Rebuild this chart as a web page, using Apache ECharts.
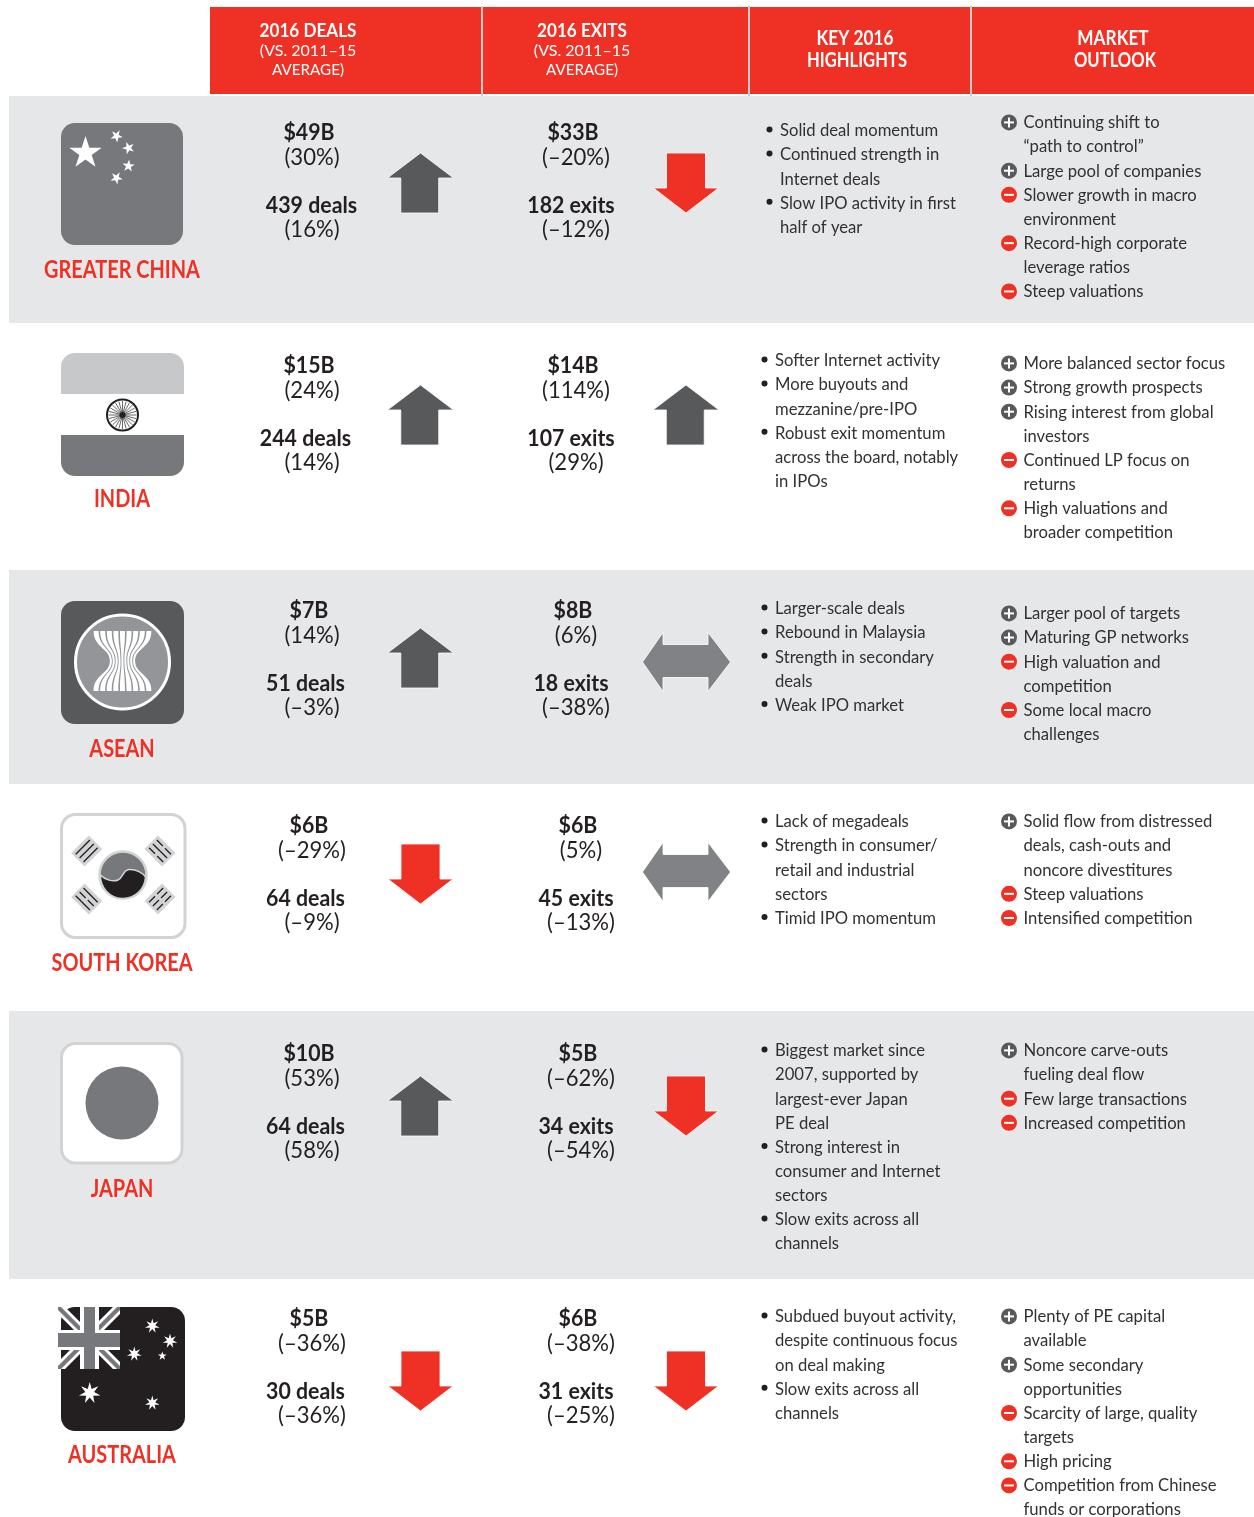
<!DOCTYPE html>
<html>
<head>
<meta charset="utf-8">
<script src="https://cdn.jsdelivr.net/npm/echarts@6/dist/echarts.min.js"></script>
<style>
html, body { margin: 0; padding: 0; background: #fff; }
#chart { width: 1254px; height: 1517px; }
</style>
</head>
<body>
<div id="chart"></div>
<script>
// table content
var regions = ['GREATER CHINA', 'INDIA', 'ASEAN', 'SOUTH KOREA', 'JAPAN', 'AUSTRALIA'];
var dealValues = ['$49B', '$15B', '$7B', '$6B', '$10B', '$5B'];
var dealValueChange = ['(30%)', '(24%)', '(14%)', '(–29%)', '(53%)', '(–36%)'];
var dealCounts = ['439 deals', '244 deals', '51 deals', '64 deals', '64 deals', '30 deals'];
var dealCountChange = ['(16%)', '(14%)', '(–3%)', '(–9%)', '(58%)', '(–36%)'];
var exitValues = ['$33B', '$14B', '$8B', '$6B', '$5B', '$6B'];
var exitValueChange = ['(–20%)', '(114%)', '(6%)', '(5%)', '(–62%)', '(–38%)'];
var exitCounts = ['182 exits', '107 exits', '18 exits', '45 exits', '34 exits', '31 exits'];
var exitCountChange = ['(–12%)', '(29%)', '(–38%)', '(–13%)', '(–54%)', '(–25%)'];
var dealTrend = ['up', 'up', 'up', 'down', 'up', 'down'];
var exitTrend = ['down', 'up', 'flat', 'flat', 'down', 'down'];

var highlights = [
    [['Solid deal momentum'], ['Continued strength in', 'Internet deals'], ['Slow IPO activity in first', 'half of year']],
    [['Softer Internet activity'], ['More buyouts and', 'mezzanine/pre-IPO'], ['Robust exit momentum', 'across the board, notably', 'in IPOs']],
    [['Larger-scale deals'], ['Rebound in Malaysia'], ['Strength in secondary', 'deals'], ['Weak IPO market']],
    [['Lack of megadeals'], ['Strength in consumer/', 'retail and industrial', 'sectors'], ['Timid IPO momentum']],
    [['Biggest market since', '2007, supported by', 'largest-ever Japan', 'PE deal'], ['Strong interest in', 'consumer and Internet', 'sectors'], ['Slow exits across all', 'channels']],
    [['Subdued buyout activity,', 'despite continuous focus', 'on deal making'], ['Slow exits across all', 'channels']]
];

// first entry of each item: '+' or '-'
var outlook = [
    [['+', 'Continuing shift to', '“path to control”'], ['+', 'Large pool of companies'], ['-', 'Slower growth in macro', 'environment'], ['-', 'Record-high corporate', 'leverage ratios'], ['-', 'Steep valuations']],
    [['+', 'More balanced sector focus'], ['+', 'Strong growth prospects'], ['+', 'Rising interest from global', 'investors'], ['-', 'Continued LP focus on', 'returns'], ['-', 'High valuations and', 'broader competition']],
    [['+', 'Larger pool of targets'], ['+', 'Maturing GP networks'], ['-', 'High valuation and', 'competition'], ['-', 'Some local macro', 'challenges']],
    [['+', 'Solid flow from distressed', 'deals, cash-outs and', 'noncore divestitures'], ['-', 'Steep valuations'], ['-', 'Intensified competition']],
    [['+', 'Noncore carve-outs', 'fueling deal flow'], ['-', 'Few large transactions'], ['-', 'Increased competition']],
    [['+', 'Plenty of PE capital', 'available'], ['+', 'Some secondary', 'opportunities'], ['-', 'Scarcity of large, quality', 'targets'], ['-', 'High pricing'], ['-', 'Competition from Chinese', 'funds or corporations']]
];

var headers = [
    { x: 308, lines: ['2016 DEALS', '(VS. 2011–15', 'AVERAGE)'] },
    { x: 582, lines: ['2016 EXITS', '(VS. 2011–15', 'AVERAGE)'] },
    { x: 856, lines: ['KEY 2016', 'HIGHLIGHTS'] },
    { x: 1114, lines: ['MARKET', 'OUTLOOK'] }
];

// layout
var bandTop = [96, 570, 1011];
var bandBottom = [323, 784, 1279];
var dividers = [482, 749, 971];
var nameY = [270.5, 499.5, 749.5, 963.5, 1189.5, 1455.5];
var statY = [132, 365, 610, 825, 1053, 1318];
var statOffset = [0, 25, 73, 97];
var exitX = [576, 576, 576, 581, 581, 581];
var arrowY = [183, 415, 658, 874, 1106, 1381];
var highlightY = [130.4, 360.4, 608.4, 821.4, 1050.4, 1316.4];
var outlookY = [122.4, 363.4, 613.4, 821.4, 1050.4, 1316.4];

var RED = '#ef3024';
var INK = '#231f20';
var FONT = 'Lato';
var LINE = 24.15;

var arrowPaths = {
    up: 'path://M33.5 0L67 25H52V60H13.5V25H0Z',
    down: 'path://M13 0H52V35H65L32.5 60L0 35H13Z',
    flat: 'path://M0 29.5L20.5 0V12H65.5V0L88 29.5L65.5 59V45H20.5V59Z'
};
var arrowColors = { up: '#58595b', down: RED, flat: '#808285' };
var arrowSizes = { up: [66, 60], down: [65, 60], flat: [88, 59] };

function arrowPoint(x, y, trend) {
    return {
        value: [x, y],
        symbol: arrowPaths[trend],
        symbolSize: arrowSizes[trend],
        itemStyle: { color: arrowColors[trend], opacity: 1, borderColor: '#fff', borderWidth: 0.8 }
    };
}

var arrowData = [];
regions.forEach(function (r, i) {
    arrowData.push(arrowPoint(420.5, arrowY[i], dealTrend[i]));
    arrowData.push(arrowPoint(exitTrend[i] === 'flat' ? 686.5 : 686, arrowY[i] + (exitTrend[i] === 'flat' ? 4 : 0) - (i === 3 ? 6 : 0), exitTrend[i]));
});

function txt(api, str, x, y, o) {
    var p = api.coord([x, y]);
    return {
        type: 'text',
        x: p[0],
        y: p[1],
        scaleX: o.sx || 1,
        style: {
            text: str,
            fontFamily: FONT,
            fontSize: o.size,
            fontWeight: o.weight || 'normal',
            fill: o.color || INK,
            align: o.align || 'center',
            verticalAlign: 'middle'
        }
    };
}

function box(api, x0, y0, x1, y1, fill, r, stroke, lw) {
    var a = api.coord([x0, y0]), b = api.coord([x1, y1]);
    return {
        type: 'rect',
        shape: { x: a[0], y: a[1], width: b[0] - a[0], height: b[1] - a[1], r: r || 0 },
        style: { fill: fill, stroke: stroke || null, lineWidth: lw || 0 }
    };
}

function starPoints(api, cx, cy, R, r, n, rot) {
    var pts = [];
    for (var k = 0; k < n * 2; k++) {
        var rad = k % 2 ? r : R;
        var a = -Math.PI / 2 + (rot || 0) + k * Math.PI / n;
        pts.push(api.coord([cx + rad * Math.cos(a), cy + rad * Math.sin(a)]));
    }
    return { type: 'polygon', shape: { points: pts }, style: { fill: '#fff' } };
}

function poly(api, pts, fill) {
    return { type: 'polygon', shape: { points: pts.map(function (p) { return api.coord(p); }) }, style: { fill: fill } };
}

function circle(api, cx, cy, r, fill, stroke, lw) {
    var c = api.coord([cx, cy]);
    return { type: 'circle', shape: { cx: c[0], cy: c[1], r: r }, style: { fill: fill, stroke: stroke || null, lineWidth: lw || 0 } };
}

function seg(api, x0, y0, x1, y1, color, lw) {
    var a = api.coord([x0, y0]), b = api.coord([x1, y1]);
    return { type: 'line', shape: { x1: a[0], y1: a[1], x2: b[0], y2: b[1] }, style: { stroke: color, lineWidth: lw } };
}

// the three bars of a trigram on the Korean flag
function trigram(api, cx, cy, rot, bars) {
    var c = api.coord([cx, cy]);
    var kids = [{ type: 'rect', shape: { x: -12.5, y: -9.5, width: 25, height: 19 }, style: { fill: '#d1d3d4' } }];
    bars.forEach(function (broken, k) {
        var y = (k - 1) * 5.5;
        if (broken) {
            kids.push({ type: 'line', shape: { x1: -10, y1: y, x2: -1.5, y2: y }, style: { stroke: INK, lineWidth: 1.3 } });
            kids.push({ type: 'line', shape: { x1: 1.5, y1: y, x2: 10, y2: y }, style: { stroke: INK, lineWidth: 1.3 } });
        } else {
            kids.push({ type: 'line', shape: { x1: -10, y1: y, x2: 10, y2: y }, style: { stroke: INK, lineWidth: 1.3 } });
        }
    });
    return { type: 'group', x: c[0], y: c[1], rotation: rot, children: kids };
}

var flagDrawers = [
    function (api) {
        var out = [box(api, 61, 123, 183, 245, '#77787b', 14)];
        out.push(starPoints(api, 85.5, 153, 17, 6.5, 5));
        out.push(starPoints(api, 116.5, 136, 6.5, 2.5, 5, 0.5));
        out.push(starPoints(api, 128.5, 148, 6.5, 2.5, 5, 0.9));
        out.push(starPoints(api, 128.5, 166, 6.5, 2.5, 5, 0.1));
        out.push(starPoints(api, 116.5, 178, 6.5, 2.5, 5, 0.5));
        return out;
    },
    function (api) {
        var out = [
            box(api, 61, 353, 184, 394, '#c7c8ca', [14, 14, 0, 0]),
            box(api, 61, 435, 184, 476, '#77787b', [0, 0, 14, 14]),
            circle(api, 122.5, 415, 15.5, '#fff', INK, 2)
        ];
        for (var k = 0; k < 24; k++) {
            var a = k * Math.PI / 12;
            out.push(seg(api, 122.5, 415, 122.5 + 14 * Math.cos(a), 415 + 14 * Math.sin(a), '#414042', 0.8));
        }
        out.push(circle(api, 122.5, 415, 3, INK));
        return out;
    },
    function (api) {
        var out = [
            box(api, 61, 601, 184, 724, '#58595b', 14),
            circle(api, 122.5, 662, 47, '#939598', '#fff', 3)
        ];
        // rice stalks, pinched at the waist
        for (var k = 0; k < 9; k++) {
            var t = k - 4;
            var topL = 122.5 + t * 6.6 - 2.5, topR = 122.5 + t * 6.6 + 2.5;
            var wL = 122.5 + t * 2.9 - 1, wR = 122.5 + t * 2.9 + 1;
            var a0 = api.coord([topL, 631]), a1 = api.coord([topR, 631]);
            var m0 = api.coord([wL, 661]), m1 = api.coord([wR, 661]);
            var b0 = api.coord([topL, 691]), b1 = api.coord([topR, 691]);
            var d = 'M' + a0 + 'L' + a1 + 'C' + (a1[0]) + ' ' + (a1[1] + 17) + ' ' + m1[0] + ' ' + (m1[1] - 13) + ' ' + m1 +
                'C' + m1[0] + ' ' + (m1[1] + 13) + ' ' + b1[0] + ' ' + (b1[1] - 17) + ' ' + b1 +
                'L' + b0 + 'C' + b0[0] + ' ' + (b0[1] - 17) + ' ' + m0[0] + ' ' + (m0[1] + 13) + ' ' + m0 +
                'C' + m0[0] + ' ' + (m0[1] - 13) + ' ' + a0[0] + ' ' + (a0[1] + 17) + ' ' + a0 + 'Z';
            out.push({ type: 'path', shape: { pathData: d }, style: { fill: '#fff' } });
        }
        return out;
    },
    function (api) {
        var out = [box(api, 61.5, 814.5, 185, 937.5, '#fff', 14, '#d1d3d4', 3)];
        out.push(trigram(api, 86.7, 851, Math.PI / 4, [0, 0, 0]));
        out.push(trigram(api, 160, 851, -Math.PI / 4, [1, 0, 1]));
        out.push(trigram(api, 86.7, 899, -Math.PI / 4, [0, 1, 0]));
        out.push(trigram(api, 160, 899, Math.PI / 4, [1, 1, 1]));
        out.push(circle(api, 123, 875, 23.5, '#77787b', '#d1d3d4', 2.5));
        var c = api.coord([123, 875]);
        var x0 = c[0], y0 = c[1];
        var d = 'M' + (x0 - 22.5) + ' ' + y0 + 'C' + (x0 - 18) + ' ' + (y0 + 5) + ' ' + (x0 - 10) + ' ' + (y0 + 7) + ' ' + (x0 - 5) + ' ' + (y0 + 5) +
            'C' + x0 + ' ' + (y0 + 3) + ' ' + x0 + ' ' + (y0 - 5) + ' ' + (x0 + 6) + ' ' + (y0 - 5.5) +
            'C' + (x0 + 13) + ' ' + (y0 - 6) + ' ' + (x0 + 20) + ' ' + (y0 - 2) + ' ' + (x0 + 22.5) + ' ' + (y0 + 2) +
            'A22.5 22.5 0 0 1 ' + (x0 - 22.5) + ' ' + y0 + 'Z';
        out.push({ type: 'path', shape: { pathData: d }, style: { fill: INK, stroke: '#d1d3d4', lineWidth: 1.5 } });
        return out;
    },
    function (api) {
        return [
            box(api, 61.5, 1043.5, 182, 1163, '#fff', 14, '#d1d3d4', 3),
            circle(api, 122, 1103, 36.5, '#77787b')
        ];
    },
    function (api) {
        var x0 = 58, y0 = 1307, s = 62, h = 7, g = 3;
        var out = [box(api, 61, 1307, 185, 1431, INK, 14)];
        var x1 = x0 + s, y1 = y0 + s;
        out.push(poly(api, [[x0, y0 + h], [x0, y0], [x0 + h, y0], [x1, y1 - h], [x1, y1], [x1 - h, y1]], '#fff'));
        out.push(poly(api, [[x0, y1 - h], [x0, y1], [x0 + h, y1], [x1, y0 + h], [x1, y0], [x1 - h, y0]], '#fff'));
        out.push(poly(api, [[x0, y0 + g], [x0, y0], [x0 + g, y0], [x1, y1 - g], [x1, y1], [x1 - g, y1]], '#77787b'));
        out.push(poly(api, [[x0, y1 - g], [x0, y1], [x0 + g, y1], [x1, y0 + g], [x1, y0], [x1 - g, y0]], '#77787b'));
        out.push(box(api, 80, y0, 99, y1, '#fff'));
        out.push(box(api, x0, 1330, x1, 1350, '#fff'));
        out.push(box(api, 84, y0, 95, y1, '#77787b'));
        out.push(box(api, x0, 1333, x1, 1347, '#77787b'));
        out.push(starPoints(api, 152.3, 1326, 7.5, 3, 7));
        out.push(starPoints(api, 170, 1341, 7.5, 3, 7));
        out.push(starPoints(api, 162.3, 1356, 4.5, 1.8, 5));
        out.push(starPoints(api, 134.3, 1354, 7.5, 3, 7));
        out.push(starPoints(api, 89.7, 1393, 11, 4.5, 7));
        out.push(starPoints(api, 152.3, 1403, 7.5, 3, 7));
        return out;
    }
];

function renderBands(params, api) {
    var i = params.dataIndex;
    return box(api, 9, bandTop[i], 1254, bandBottom[i], '#e6e7e8');
}

function renderHeader(params, api) {
    var kids = [box(api, 210, 7, 1254, 94, RED)];
    dividers.forEach(function (x) {
        kids.push(box(api, x - 1, 6, x + 1, 96, '#c9cacc'));
    });
    headers.forEach(function (h) {
        if (h.lines.length === 3) {
            kids.push(txt(api, h.lines[0], h.x, 31, { size: 19, weight: 'bold', color: '#fff', sx: 0.9 }));
            kids.push(txt(api, h.lines[1], h.x, 50.5, { size: 16, color: '#fff', sx: 1 }));
            kids.push(txt(api, h.lines[2], h.x, 69.5, { size: 16, color: '#fff', sx: 0.95 }));
        } else {
            kids.push(txt(api, h.lines[0], h.x - 1, 39, { size: 20, weight: 'bold', color: '#fff', sx: 0.86 }));
            kids.push(txt(api, h.lines[1], h.x + 1, 61, { size: 20, weight: 'bold', color: '#fff', sx: 0.83 }));
        }
    });
    return { type: 'group', children: kids };
}

function renderRow(params, api) {
    var i = params.dataIndex;
    var kids = flagDrawers[i](api);
    kids.push(txt(api, regions[i], 122, nameY[i], { size: 24, weight: 'bold', color: RED, sx: 0.83 }));

    var bold = { size: 22, weight: 'bold', sx: 0.97 };
    var light = { size: 24, weight: 'normal', sx: 0.92 };
    var y = statY[i];
    kids.push(txt(api, dealValues[i], 309, y + statOffset[0] + 1, bold));
    kids.push(txt(api, dealValueChange[i], 312, y + statOffset[1], light));
    kids.push(txt(api, dealCounts[i], i === 0 ? 311.5 : 305.5, y + statOffset[2] + 1, bold));
    kids.push(txt(api, dealCountChange[i], 312, y + statOffset[3], light));
    kids.push(txt(api, exitValues[i], exitX[i] - 3, y + statOffset[0] + 1, bold));
    kids.push(txt(api, exitValueChange[i], exitX[i], y + statOffset[1], light));
    kids.push(txt(api, exitCounts[i], exitX[i] - 5, y + statOffset[2] + 1, bold));
    kids.push(txt(api, exitCountChange[i], exitX[i], y + statOffset[3], light));

    var body = { size: 18, weight: 'normal', align: 'left', sx: 0.925, color: '#333031' };
    var line = 0;
    var hx = i === 0 ? 780 : 775;
    highlights[i].forEach(function (item) {
        item.forEach(function (s, k) {
            var ly = highlightY[i] + line * LINE;
            if (k === 0) kids.push(circle(api, hx - 10.5, ly - 1, 3, INK));
            kids.push(txt(api, s, hx, ly, body));
            line++;
        });
    });

    line = 0;
    outlook[i].forEach(function (item) {
        var ly = outlookY[i] + line * LINE;
        var plus = item[0] === '+';
        kids.push(circle(api, 1009, ly, 8, plus ? '#58595b' : RED));
        kids.push(seg(api, 1004, ly, 1014, ly, '#fff', 2));
        if (plus) kids.push(seg(api, 1009, ly - 5, 1009, ly + 5, '#fff', 2));
        item.slice(1).forEach(function (s) {
            kids.push(txt(api, s, 1023.5, outlookY[i] + line * LINE, body));
            line++;
        });
    });
    return { type: 'group', children: kids };
}

var myChart = echarts.init(document.getElementById('chart'));

myChart.setOption({
    animation: false,
    backgroundColor: '#fff',
    grid: { left: 0, right: 0, top: 0, bottom: 0 },
    xAxis: { type: 'value', min: 0, max: 1254, show: false },
    yAxis: { type: 'value', min: 0, max: 1517, inverse: true, show: false },
    series: [
        { type: 'custom', silent: true, clip: false, z: 1, data: bandTop.map(function (v, i) { return [i]; }), renderItem: renderBands },
        { type: 'custom', silent: true, clip: false, z: 2, data: [[0]], renderItem: renderHeader },
        { type: 'custom', silent: true, clip: false, z: 3, data: regions.map(function (v, i) { return [i]; }), renderItem: renderRow },
        { type: 'scatter', silent: true, z: 4, data: arrowData }
    ]
});
</script>
</body>
</html>
